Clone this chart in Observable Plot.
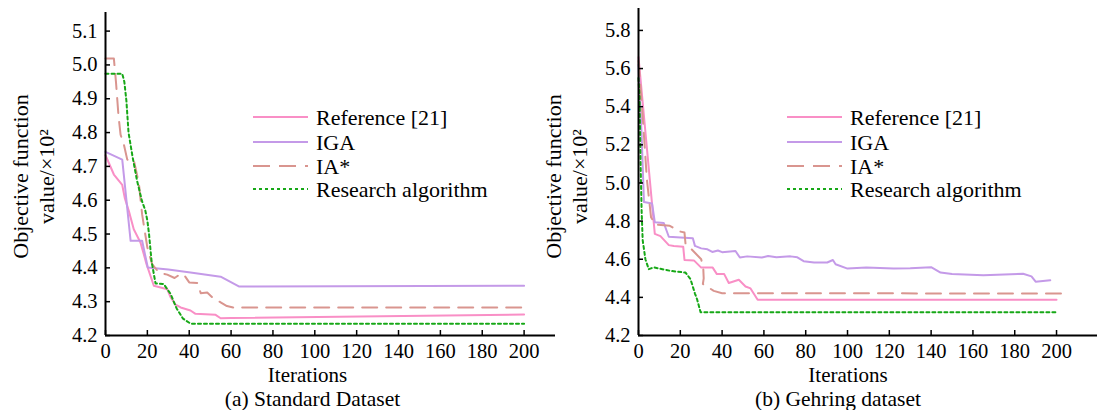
<!DOCTYPE html>
<html>
<head>
<meta charset="utf-8">
<script src="https://cdn.jsdelivr.net/npm/d3@7"></script>
<script src="https://cdn.jsdelivr.net/npm/@observablehq/plot@0.6"></script>
<style>
  body { margin: 0; background: #fff; }
  #wrap { position: relative; width: 1097px; height: 410px; overflow: hidden; background: #fff;
          font-family: "Liberation Serif", serif; }
  .panel { position: absolute; top: 0; }
</style>
</head>
<body>
<div id="wrap"></div>
<script>
// ---------- series meta ----------
const seriesNames = ["Reference [21]", "IGA", "IA*", "Research algorithm"];
const seriesColors = ["#f98fc6", "#c49ae8", "#d9958f", "#17a817"];
const seriesDash = [null, null, "15,9", "3,3"];

// ---------- (a) Standard Dataset : [iteration, value] ----------
const stdRef = [[0,4.733],[4,4.676],[8,4.645],[9.2,4.607],[11.2,4.567],[13.5,4.514],[16.7,4.475],[18.3,4.44],[19.6,4.411],[23.1,4.347],[29.5,4.337],[31.1,4.313],[33.5,4.291],[35.9,4.283],[40.6,4.274],[43,4.264],[52.6,4.261],[55,4.251],[60,4.252],[200,4.262]];
const stdIGA = [[0,4.743],[8,4.72],[12,4.48],[17.5,4.48],[20.2,4.401],[30,4.395],[40.6,4.386],[55,4.374],[63.7,4.345],[200,4.347]];
const stdIA = [[0,5.019],[4,5.019],[5,4.95],[6.2,4.85],[7.2,4.794],[8.8,4.764],[10.4,4.72],[13.5,4.72],[16,4.647],[17.5,4.558],[20,4.46],[22.3,4.411],[25.5,4.386],[29.5,4.38],[33,4.37],[36,4.383],[38,4.375],[40,4.357],[44,4.355],[45.5,4.325],[48.6,4.327],[51,4.313],[55,4.298],[58,4.287],[61,4.283],[200,4.283]];
const stdRes = [[0,4.974],[8,4.974],[9,4.95],[10,4.893],[11,4.80],[13,4.726],[15,4.66],[17.4,4.598],[19,4.57],[20,4.54],[20.8,4.50],[22,4.42],[23.9,4.354],[27.8,4.352],[31,4.324],[34,4.28],[37,4.25],[40.7,4.235],[200,4.235]];

// ---------- (b) Gehring dataset ----------
const gehRef = [[0,5.66],[7.8,4.733],[10.5,4.721],[14.5,4.674],[16.9,4.669],[21.4,4.665],[22,4.596],[26.5,4.594],[30,4.556],[35.5,4.556],[37.5,4.522],[41,4.522],[43.2,4.475],[48,4.492],[51.2,4.457],[53.6,4.447],[57,4.387],[200,4.387]];
const gehIGA = [[0,5.62],[1.5,5.25],[2.6,4.9],[6.5,4.892],[7.8,4.794],[12.1,4.79],[14.5,4.718],[22,4.713],[26,4.71],[27,4.67],[30,4.657],[33,4.652],[35.3,4.638],[38,4.646],[40,4.637],[46.4,4.643],[48.5,4.609],[52,4.615],[59,4.609],[62,4.617],[66,4.61],[72.7,4.615],[76,4.61],[79,4.59],[84,4.583],[90.3,4.583],[93,4.596],[94.3,4.574],[100,4.551],[109,4.556],[122,4.551],[130,4.553],[140,4.558],[144.5,4.53],[150,4.522],[165,4.516],[184,4.524],[188,4.51],[190,4.482],[197,4.49]];
const gehIA = [[0,5.64],[2,5.35],[4,5.02],[6,4.82],[8,4.782],[15,4.775],[20,4.745],[22,4.74],[22.5,4.68],[24.5,4.662],[30,4.60],[31,4.55],[31.2,4.50],[30.8,4.47],[33,4.455],[36,4.434],[40,4.422],[203,4.42]];
const gehRes = [[0,5.55],[0.5,5.45],[1,5.1],[1.5,4.85],[2,4.7],[3.3,4.6],[4.9,4.548],[7.3,4.557],[15.3,4.539],[22.5,4.53],[24.9,4.495],[27,4.42],[28,4.391],[29.7,4.322],[200,4.322]];

// ---------- ticks / domains ----------
const xTicks = [0,20,40,60,80,100,120,140,160,180,200];
const stdYTicks = [4.2,4.3,4.4,4.5,4.6,4.7,4.8,4.9,5.0,5.1];
const gehYTicks = [4.2,4.4,4.6,4.8,5.0,5.2,5.4,5.6,5.8];
const stdXDomain = [0, 215];
const gehXDomain = [0, 219.6];
const stdYDomain = [4.2, 5.155];
const gehYDomain = [4.2, 5.915];

const yLabel1 = "Objective function";
const yLabel2 = "value/×10²";
const xLabel = "Iterations";
const captions = ["(a) Standard Dataset", "(b) Gehring dataset"];

const FONT = '"Liberation Serif", serif';
const wrap = document.getElementById("wrap");
const fmt = d3.format(".1f");

function panel(cfg) {
  const lines = cfg.series.map((s, i) => Plot.line(s, {
    x: d => d[0], y: d => d[1],
    stroke: seriesColors[i], strokeWidth: 2,
    strokeDasharray: seriesDash[i] || undefined
  }));
  const chart = Plot.plot({
    width: cfg.width, height: 410,
    marginLeft: cfg.marginLeft, marginRight: cfg.marginRight,
    marginTop: cfg.marginTop, marginBottom: 75,
    style: {background: "none", fontFamily: FONT, fontSize: "20px", color: "black", overflow: "visible"},
    x: {domain: cfg.xDomain, label: null},
    y: {domain: cfg.yDomain, label: null},
    marks: [
      ...lines,
      Plot.axisX(xTicks, {tickSize: -5, tickPadding: 13, tickFormat: d => String(d), strokeWidth: 1.5, fontSize: 20.5}),
      Plot.axisY(cfg.yTicks, {tickSize: -5, tickPadding: 13, tickFormat: fmt, strokeWidth: 1.5, fontSize: 20.5}),
      Plot.ruleX([cfg.xDomain[0]], {stroke: "black", strokeWidth: 2}),
      Plot.ruleY([cfg.yDomain[0]], {stroke: "black", strokeWidth: 2}),
      Plot.text([yLabel1], {frameAnchor: "left", rotate: -90, dx: -85, dy: cfg.labelDy, fontSize: 22, lineAnchor: "middle", textAnchor: "middle"}),
      Plot.text([yLabel2], {frameAnchor: "left", rotate: -90, dx: -59, dy: cfg.labelDy, fontSize: 22, lineAnchor: "middle", textAnchor: "middle"}),
      Plot.text([xLabel], {frameAnchor: "bottom", dx: cfg.iterDx, dy: 46.5, fontSize: 21, lineAnchor: "bottom"}),
      Plot.text([cfg.caption], {frameAnchor: "bottom", dx: cfg.capDx, dy: 70.5, fontSize: 21.5, lineAnchor: "bottom"})
    ]
  });
  chart.classList.add("panel");
  chart.style.left = cfg.left + "px";
  wrap.appendChild(chart);
}

panel({left: 0, width: 560, marginLeft: 105, marginRight: 5, marginTop: 12,
       xDomain: stdXDomain, yDomain: stdYDomain, yTicks: stdYTicks,
       series: [stdRef, stdIGA, stdIA, stdRes], labelDy: 2.5, iterDx: -23, capDx: -18, caption: captions[0]});
panel({left: 530, width: 567, marginLeft: 108, marginRight: 0, marginTop: 8,
       xDomain: gehXDomain, yDomain: gehYDomain, yTicks: gehYTicks,
       series: [gehRef, gehIGA, gehIA, gehRes], labelDy: 4.5, iterDx: -20, capDx: -30, caption: captions[1]});

// ---------- legends ----------
function legend(left, sampleX1, sampleX2, textX) {
  const svg = d3.select(wrap).append("svg")
    .attr("width", 320).attr("height", 120)
    .style("position", "absolute").style("left", left + "px").style("top", "100px")
    .style("overflow", "visible");
  const rows = [17, 42, 66, 89];
  seriesNames.forEach((name, i) => {
    svg.append("line")
      .attr("x1", sampleX1).attr("x2", sampleX2)
      .attr("y1", rows[i]).attr("y2", rows[i])
      .attr("stroke", seriesColors[i]).attr("stroke-width", 2)
      .attr("stroke-dasharray", seriesDash[i] ? (i === 2 ? "17,9" : seriesDash[i]) : null);
    svg.append("text")
      .attr("x", textX).attr("y", rows[i] + 7.5)
      .attr("font-size", 22)
      .attr("font-family", "Liberation Serif")
      .attr("fill", "black")
      .text(name);
  });
}
legend(240, 13, 68, 76);
legend(775, 12, 67, 75);
</script>
</body>
</html>
